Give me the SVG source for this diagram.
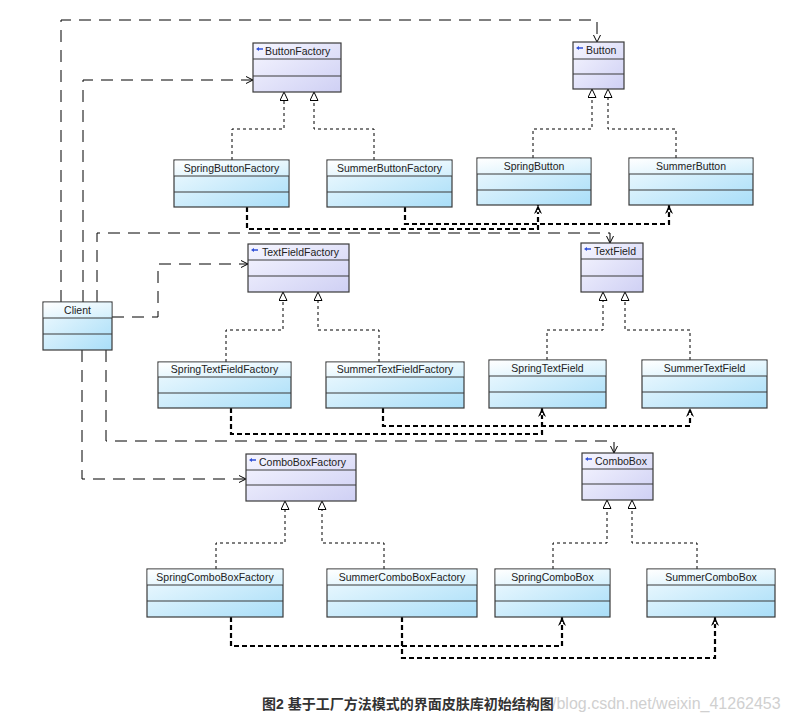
<svg xmlns="http://www.w3.org/2000/svg" width="793" height="721" viewBox="0 0 793 721">
<defs>
<linearGradient id="gc" x1="0" y1="0" x2="1" y2="1"><stop offset="0" stop-color="#f2fbff"/><stop offset="1" stop-color="#a9def8"/></linearGradient>
<linearGradient id="gt" x1="0" y1="0" x2="1" y2="1"><stop offset="0" stop-color="#ffffff"/><stop offset="1" stop-color="#d2effc"/></linearGradient>
<linearGradient id="ga" x1="0" y1="0" x2="1" y2="1"><stop offset="0" stop-color="#f6f6ff"/><stop offset="1" stop-color="#cfd0f4"/></linearGradient>
<marker id="tri" markerUnits="userSpaceOnUse" markerWidth="12" markerHeight="12" refX="9" refY="4.5" orient="auto"><path d="M0.5,0.5 L9,4.5 L0.5,8.5 z" fill="#fff" stroke="#000" stroke-width="1"/></marker>
<marker id="open" markerUnits="userSpaceOnUse" markerWidth="10" markerHeight="10" refX="7" refY="4" orient="auto"><path d="M0,0.5 L7,4 L0,7.5" fill="none" stroke="#000" stroke-width="1"/></marker>
<marker id="dep" markerUnits="userSpaceOnUse" markerWidth="12" markerHeight="12" refX="9" refY="4" orient="auto"><path d="M0,0 L9,4 L0,8 L3,4 z" fill="#000"/><circle cx="3" cy="4" r="1.2" fill="#fff"/></marker>
</defs>
<style>
.box{stroke:#3a3a3a;stroke-width:1.2}
.c{fill:url(#gc)}
.t{fill:url(#gt)}
.a{fill:url(#ga)}
.sep{stroke:#3a3a3a;stroke-width:1.2}
text{font-family:"Liberation Sans",Arial,sans-serif;font-size:10.5px;fill:#222}
.ct{text-anchor:middle}
.ico{fill:#2f4fd8}
.real{fill:none;stroke:#000;stroke-width:1;stroke-dasharray:3 3}
.dep{fill:none;stroke:#000;stroke-width:2.2;stroke-dasharray:5 3}
.use{fill:none;stroke:#000;stroke-width:1;stroke-dasharray:12 8}
.cap{font-size:14px;font-weight:bold;fill:#333;font-family:"Liberation Sans","Noto Sans CJK SC",sans-serif}
.wm{font-size:16px;fill:#d0d0d0;font-family:"Liberation Sans",sans-serif}
</style>

<g id="connectors">
<path class="real" d="M232,160 V129 H284 V92" marker-end="url(#tri)"/>
<path class="real" d="M374,160 V129 H314 V92" marker-end="url(#tri)"/>
<path class="real" d="M533,158 V129 H592 V89" marker-end="url(#tri)"/>
<path class="real" d="M676,158 V129 H608 V89" marker-end="url(#tri)"/>
<path class="real" d="M226,362 V330 H283 V292" marker-end="url(#tri)"/>
<path class="real" d="M379,362 V330 H318 V292" marker-end="url(#tri)"/>
<path class="real" d="M547,360 V330 H603 V292" marker-end="url(#tri)"/>
<path class="real" d="M690,360 V330 H625 V292" marker-end="url(#tri)"/>
<path class="real" d="M216,569 V543 H285 V501" marker-end="url(#tri)"/>
<path class="real" d="M384,569 V543 H322 V501" marker-end="url(#tri)"/>
<path class="real" d="M553,569 V543 H607 V500" marker-end="url(#tri)"/>
<path class="real" d="M697,569 V543 H632 V500" marker-end="url(#tri)"/>

<path class="dep" d="M247,207 V229 H538 V205" marker-end="url(#dep)"/>
<path class="dep" d="M405,207 V224 H669 V205" marker-end="url(#dep)"/>
<path class="dep" d="M231,408 V434 H542 V408" marker-end="url(#dep)"/>
<path class="dep" d="M383,408 V426 H690 V408" marker-end="url(#dep)"/>
<path class="dep" d="M231,617 V646 H562 V617" marker-end="url(#dep)"/>
<path class="dep" d="M402,617 V658 H715 V617" marker-end="url(#dep)"/>

<path class="use" d="M61,302 V20 H597 V42" marker-end="url(#open)"/>
<path class="use" d="M83,302 V80 H253" marker-end="url(#open)"/>
<path class="use" d="M97,302 V233 H610 V243" marker-end="url(#open)"/>
<path class="use" d="M112,317 H158 V264 H248" marker-end="url(#open)"/>
<path class="use" d="M82,350 V479 H246" marker-end="url(#open)"/>
<path class="use" d="M106,350 V441 H614 V453" marker-end="url(#open)"/>
</g>

<g id="ButtonFactory">
<rect class="box a" x="253" y="43" width="88" height="49"/>
<line class="sep" x1="253" y1="59" x2="341" y2="59"/><line class="sep" x1="253" y1="76" x2="341" y2="76"/>
<path class="ico" d="M256,49 L259,47 L259,48.3 L263,48.3 L263,49.7 L259,49.7 L259,51 z"/>
<text x="265" y="55">ButtonFactory</text>
</g>
<g id="Button">
<rect class="box a" x="573" y="42" width="51" height="47"/>
<line class="sep" x1="573" y1="59" x2="624" y2="59"/><line class="sep" x1="573" y1="74" x2="624" y2="74"/>
<path class="ico" d="M576,48 L579,46 L579,47.3 L583,47.3 L583,48.7 L579,48.7 L579,50 z"/>
<text x="586" y="54">Button</text>
</g>
<g id="SpringButtonFactory">
<rect class="box c" x="174" y="160" width="115" height="47"/>
<rect class="t" x="174.6" y="160.6" width="113.8" height="15.4"/>
<line class="sep" x1="174" y1="176" x2="289" y2="176"/><line class="sep" x1="174" y1="192" x2="289" y2="192"/>
<text class="ct" x="231.5" y="172">SpringButtonFactory</text>
</g>
<g id="SummerButtonFactory">
<rect class="box c" x="327" y="160" width="125" height="47"/>
<rect class="t" x="327.6" y="160.6" width="123.8" height="15.4"/>
<line class="sep" x1="327" y1="176" x2="452" y2="176"/><line class="sep" x1="327" y1="192" x2="452" y2="192"/>
<text class="ct" x="389.5" y="172">SummerButtonFactory</text>
</g>
<g id="SpringButton">
<rect class="box c" x="477" y="158" width="114" height="47"/>
<rect class="t" x="477.6" y="158.6" width="112.8" height="15.4"/>
<line class="sep" x1="477" y1="174" x2="591" y2="174"/><line class="sep" x1="477" y1="190" x2="591" y2="190"/>
<text class="ct" x="534" y="170">SpringButton</text>
</g>
<g id="SummerButton">
<rect class="box c" x="629" y="158" width="124" height="47"/>
<rect class="t" x="629.6" y="158.6" width="122.8" height="15.4"/>
<line class="sep" x1="629" y1="174" x2="753" y2="174"/><line class="sep" x1="629" y1="190" x2="753" y2="190"/>
<text class="ct" x="691" y="170">SummerButton</text>
</g>
<g id="Client">
<rect class="box c" x="43" y="302" width="69" height="48"/>
<rect class="t" x="43.6" y="302.6" width="67.8" height="15.4"/>
<line class="sep" x1="43" y1="318" x2="112" y2="318"/><line class="sep" x1="43" y1="334" x2="112" y2="334"/>
<text class="ct" x="77.5" y="314">Client</text>
</g>
<g id="TextFieldFactory">
<rect class="box a" x="248" y="244" width="101" height="48"/>
<line class="sep" x1="248" y1="260" x2="349" y2="260"/><line class="sep" x1="248" y1="276" x2="349" y2="276"/>
<path class="ico" d="M251,250 L254,248 L254,249.3 L258,249.3 L258,250.7 L254,250.7 L254,252 z"/>
<text x="262" y="256">TextFieldFactory</text>
</g>
<g id="TextField">
<rect class="box a" x="581" y="243" width="62" height="49"/>
<line class="sep" x1="581" y1="259" x2="643" y2="259"/><line class="sep" x1="581" y1="276" x2="643" y2="276"/>
<path class="ico" d="M584,249 L587,247 L587,248.3 L591,248.3 L591,249.7 L587,249.7 L587,251 z"/>
<text x="594" y="255">TextField</text>
</g>
<g id="SpringTextFieldFactory">
<rect class="box c" x="158" y="362" width="133" height="46"/>
<rect class="t" x="158.6" y="362.6" width="131.8" height="14.4"/>
<line class="sep" x1="158" y1="377" x2="291" y2="377"/><line class="sep" x1="158" y1="393" x2="291" y2="393"/>
<text class="ct" x="224.5" y="373">SpringTextFieldFactory</text>
</g>
<g id="SummerTextFieldFactory">
<rect class="box c" x="326" y="362" width="138" height="46"/>
<rect class="t" x="326.6" y="362.6" width="136.8" height="14.4"/>
<line class="sep" x1="326" y1="377" x2="464" y2="377"/><line class="sep" x1="326" y1="393" x2="464" y2="393"/>
<text class="ct" x="395" y="373">SummerTextFieldFactory</text>
</g>
<g id="SpringTextField">
<rect class="box c" x="489" y="360" width="117" height="48"/>
<rect class="t" x="489.6" y="360.6" width="115.8" height="15.4"/>
<line class="sep" x1="489" y1="376" x2="606" y2="376"/><line class="sep" x1="489" y1="392" x2="606" y2="392"/>
<text class="ct" x="547.5" y="372">SpringTextField</text>
</g>
<g id="SummerTextField">
<rect class="box c" x="642" y="360" width="125" height="48"/>
<rect class="t" x="642.6" y="360.6" width="123.8" height="15.4"/>
<line class="sep" x1="642" y1="376" x2="767" y2="376"/><line class="sep" x1="642" y1="392" x2="767" y2="392"/>
<text class="ct" x="704.5" y="372">SummerTextField</text>
</g>
<g id="ComboBoxFactory">
<rect class="box a" x="246" y="454" width="110" height="47"/>
<line class="sep" x1="246" y1="470" x2="356" y2="470"/><line class="sep" x1="246" y1="485" x2="356" y2="485"/>
<path class="ico" d="M249,460 L252,458 L252,459.3 L256,459.3 L256,460.7 L252,460.7 L252,462 z"/>
<text x="259" y="466">ComboBoxFactory</text>
</g>
<g id="ComboBox">
<rect class="box a" x="582" y="453" width="71" height="47"/>
<line class="sep" x1="582" y1="469" x2="653" y2="469"/><line class="sep" x1="582" y1="484" x2="653" y2="484"/>
<path class="ico" d="M585,459 L588,457 L588,458.3 L592,458.3 L592,459.7 L588,459.7 L588,461 z"/>
<text x="595" y="465">ComboBox</text>
</g>
<g id="SpringComboBoxFactory">
<rect class="box c" x="147" y="569" width="136" height="48"/>
<rect class="t" x="147.6" y="569.6" width="134.8" height="15.4"/>
<line class="sep" x1="147" y1="585" x2="283" y2="585"/><line class="sep" x1="147" y1="601" x2="283" y2="601"/>
<text class="ct" x="215" y="581">SpringComboBoxFactory</text>
</g>
<g id="SummerComboBoxFactory">
<rect class="box c" x="327" y="569" width="150" height="48"/>
<rect class="t" x="327.6" y="569.6" width="148.8" height="15.4"/>
<line class="sep" x1="327" y1="585" x2="477" y2="585"/><line class="sep" x1="327" y1="601" x2="477" y2="601"/>
<text class="ct" x="402" y="581">SummerComboBoxFactory</text>
</g>
<g id="SpringComboBox">
<rect class="box c" x="495" y="569" width="115" height="48"/>
<rect class="t" x="495.6" y="569.6" width="113.8" height="15.4"/>
<line class="sep" x1="495" y1="585" x2="610" y2="585"/><line class="sep" x1="495" y1="601" x2="610" y2="601"/>
<text class="ct" x="552.5" y="581">SpringComboBox</text>
</g>
<g id="SummerComboBox">
<rect class="box c" x="647" y="569" width="128" height="48"/>
<rect class="t" x="647.6" y="569.6" width="126.8" height="15.4"/>
<line class="sep" x1="647" y1="585" x2="775" y2="585"/><line class="sep" x1="647" y1="601" x2="775" y2="601"/>
<text class="ct" x="711" y="581">SummerComboBox</text>
</g>

<text class="wm" x="552" y="709">/blog.csdn.net/weixin_41262453</text>
<text class="cap" x="262" y="709">图2 基于工厂方法模式的界面皮肤库初始结构图</text>
</svg>
